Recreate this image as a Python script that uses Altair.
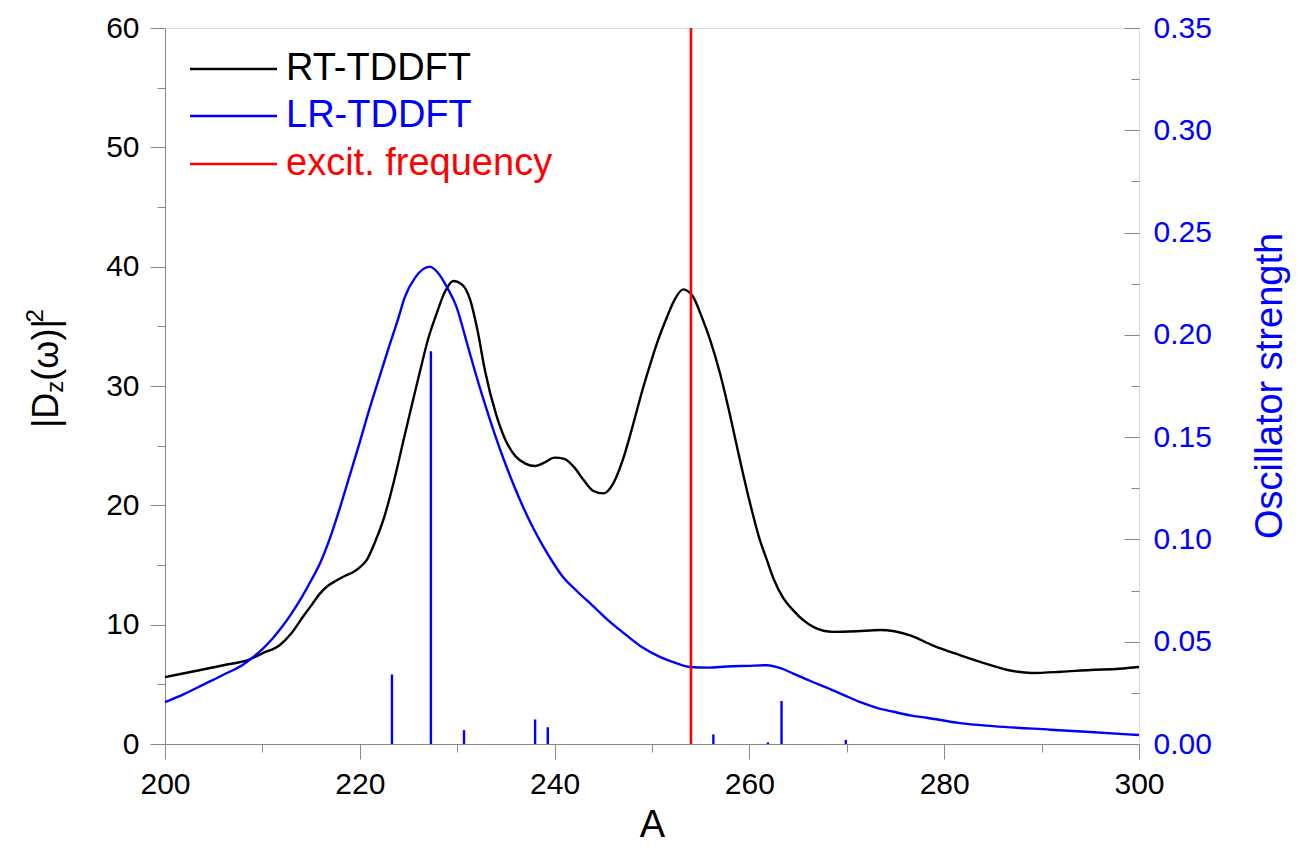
import altair as alt
import pandas as pd

# ---------------- data ----------------
rt_x = [200, 203, 206, 208.7, 210, 211.8, 213, 214.2, 215.1, 215.9, 216.8, 217.6, 218.5, 219.3,
        220, 220.7, 221.5, 222.5, 223.5, 224.5, 225.4, 226.2, 227, 227.9, 228.8, 229.6, 230.5,
        231.3, 232.1, 232.85, 234, 235, 236, 237, 238, 239, 240, 241, 242, 243, 244, 245, 246,
        247, 248, 249, 250, 250.65, 251.5, 252.3, 253.2, 254.2, 255.1, 255.95, 257, 258, 259,
        260, 261, 261.8, 262.5, 263.5, 264.5, 265.5, 266.6, 268.6, 271, 273.4, 276.5, 279,
        281.6, 284, 286.5, 289, 292, 295, 298, 300]
rt_y = [5.6, 6.1, 6.6, 7.1, 7.6, 8.3, 9.3, 10.7, 11.7, 12.6, 13.3, 13.7, 14.1, 14.4,
        14.8, 15.4, 16.8, 19.0, 22.0, 25.5, 28.6, 31.3, 33.9, 36.1, 38.0, 38.8, 38.5,
        37.3, 34.6, 31.3, 27.6, 25.4, 24.1, 23.5, 23.3, 23.6, 24.0, 23.9, 23.2, 22.1, 21.2, 21.0, 21.8,
        23.8, 26.6, 29.6, 32.3, 33.9, 35.7, 37.2, 38.1, 37.5, 35.8, 33.9, 31.0, 27.6, 23.9,
        20.4, 17.3, 15.4, 13.8, 12.2, 11.2, 10.4, 9.8, 9.4, 9.45, 9.55, 9.1, 8.2,
        7.45, 6.8, 6.2, 5.95, 6.05, 6.2, 6.3, 6.45]

lr_x = [200, 202, 204, 206, 208, 209, 210, 211, 212, 213, 214, 215, 216, 217, 218, 219, 220,
        221, 222, 223, 224, 224.6, 225.7, 227.2, 228.1, 229, 229.9, 231, 231.8, 232.8, 233.8,
        234.8, 235.8, 236.8, 237.8, 238.8, 239.8, 240.8, 242.3, 243.9, 245.6, 247.4, 249,
        250.8, 252.4, 253.9, 255.8, 257.7, 259.8, 261.8, 263.2, 264.5, 266.2, 268, 269.7,
        271.4, 273, 274.8, 276.5, 278.2, 281.6, 285, 290.9, 295, 300]
lr_y = [3.5, 4.2, 5.0, 5.8, 6.65, 7.25, 7.95, 8.8, 9.8, 10.95, 12.25, 13.7, 15.3, 17.4, 19.9, 22.6, 25.3,
        28.1, 30.7, 33.3, 35.8, 37.4, 39.1, 40.0, 39.4, 38.2, 36.7, 33.6, 31.3, 28.6, 26.1,
        23.8, 21.7, 19.8, 18.1, 16.6, 15.25, 14.05, 12.8, 11.6, 10.3, 9.1, 8.1,
        7.3, 6.8, 6.45, 6.4, 6.5, 6.55, 6.6, 6.35, 5.9, 5.3, 4.7, 4.1,
        3.5, 3.05, 2.7, 2.4, 2.2, 1.75, 1.5, 1.2, 1.0, 0.75]

stick_x = [223.3, 227.3, 230.7, 238.0, 239.3, 256.3, 261.9, 263.3, 269.9]
stick_f = [0.034, 0.192, 0.0068, 0.012, 0.0082, 0.0047, 0.0008, 0.021, 0.002]

excit_x = [254.0]

legend_labels = ["RT-TDDFT", "LR-TDDFT", "excit. frequency"]
legend_colors = ["#000000", "#0000ff", "#ff0000"]

x_major_ticks = [200, 220, 240, 260, 280, 300]
x_minor_ticks = [210, 230, 250, 270, 290]
yl_major_ticks = [0, 10, 20, 30, 40, 50, 60]
yl_minor_ticks = [5, 15, 25, 35, 45, 55]
yr_major_ticks = [0.0, 0.05, 0.10, 0.15, 0.20, 0.25, 0.30, 0.35]
yr_minor_ticks = [0.025, 0.075, 0.125, 0.175, 0.225, 0.275, 0.325]

assert len(rt_x) == len(rt_y) and len(lr_x) == len(lr_y) and len(stick_x) == len(stick_f)

rt = pd.DataFrame({"x": rt_x, "y": rt_y})
lr = pd.DataFrame({"x": lr_x, "y": lr_y})
sticks = pd.DataFrame({"x": stick_x, "f": stick_f})
excit = pd.DataFrame({"x": excit_x})

FONT = "Liberation Sans"
BLUE = "#0000ff"
W, H = 974, 716
LW = 2.4

xs = alt.Scale(domain=[200, 300], nice=False, zero=False)
yls = alt.Scale(domain=[0, 60], nice=False, zero=False)
yrs = alt.Scale(domain=[0, 0.35], nice=False, zero=False)

x_major = alt.Axis(values=x_major_ticks, tickSize=15, labelPadding=10, labelFontSize=30,
                   labelFont=FONT, labelFlush=False, labelOverlap=False, format="d",
                   title="A", titleFont=FONT, titleFontSize=38, titleFontWeight="normal",
                   titlePadding=7, grid=False, orient="bottom")
x_minor = alt.Axis(values=x_minor_ticks, tickSize=8, labels=False, domain=False,
                   title=None, grid=False, orient="bottom")
yl_major = alt.Axis(values=yl_major_ticks, tickSize=15, labelPadding=11, labelFontSize=30,
                    labelFont=FONT, labelFlush=False, labelOverlap=False, format="d",
                    title=None, grid=False, orient="left")
yl_minor = alt.Axis(values=yl_minor_ticks, tickSize=8, labels=False, domain=False,
                    title=None, grid=False, orient="left")
yr_major = alt.Axis(values=yr_major_ticks, tickSize=15, offset=-15, labelPadding=14,
                    labelFontSize=30, labelFont=FONT, labelColor=BLUE, labelFlush=False,
                    labelOverlap=False, format=".2f", domain=False, title=None, grid=False,
                    orient="right")
yr_minor = alt.Axis(values=yr_minor_ticks, tickSize=8, offset=-8, labels=False, domain=False,
                    title=None, grid=False, orient="right")

black = alt.Chart(rt).mark_line(color="black", strokeWidth=LW, interpolate="monotone").encode(
    x=alt.X("x:Q", scale=xs, axis=x_major),
    y=alt.Y("y:Q", scale=yls, axis=yl_major),
)
minor_left = alt.Chart(rt).mark_line(opacity=0).encode(
    x=alt.X("x:Q", scale=xs, axis=x_minor),
    y=alt.Y("y:Q", scale=yls, axis=yl_minor),
)
blue = alt.Chart(lr).mark_line(color=BLUE, strokeWidth=LW, interpolate="monotone").encode(
    x=alt.X("x:Q", scale=xs, axis=None),
    y=alt.Y("y:Q", scale=yls, axis=None),
)
stick_layer = alt.Chart(sticks).mark_rule(color=BLUE, strokeWidth=LW).encode(
    x=alt.X("x:Q", scale=xs, axis=None),
    y=alt.Y("f:Q", scale=yrs, axis=yr_major),
    y2=alt.datum(0),
)
minor_right = alt.Chart(sticks).mark_rule(opacity=0).encode(
    x=alt.X("x:Q", scale=xs, axis=None),
    y=alt.Y("f:Q", scale=yrs, axis=yr_minor),
)
red = alt.Chart(excit).mark_rule(color="#ff0000", strokeWidth=2.6).encode(
    x=alt.X("x:Q", scale=xs, axis=None),
)

layers = [black, minor_left, blue, stick_layer, minor_right, red]

# legend (drawn manually to colour each label like its line)
row_y = [41, 88, 136]
for lab, col, yy in zip(legend_labels, legend_colors, row_y):
    one = pd.DataFrame({"t": [lab]})
    layers.append(alt.Chart(one).mark_rule(color=col, strokeWidth=LW).encode(
        x=alt.value(25), x2=alt.value(112), y=alt.value(yy)))
    layers.append(alt.Chart(one).mark_text(color=col, font=FONT, fontSize=38, align="left",
                                           baseline="middle").encode(
        x=alt.value(121), y=alt.value(yy), text="t:N"))

# right axis title
rt_title = pd.DataFrame({"t": ["Oscillator strength"]})
layers.append(alt.Chart(rt_title).mark_text(color=BLUE, font=FONT, fontSize=38, angle=270,
                                            align="center", baseline="alphabetic").encode(
    x=alt.value(1117), y=alt.value(358), text="t:N"))

# left axis title |D_z(ω)|^2 composed of pieces
pieces = [("|D", 36, 0), ("z", 24, 5), ("(ω)|", 36, 0), ("2", 24, -15)]
widths = {"|": 0.26, "D": 0.722, "z": 0.5, "(": 0.333, "ω": 0.69, ")": 0.333, "2": 0.556}
base_x = -107
ypos = 400.0
for txt, fs, shift in pieces:
    one = pd.DataFrame({"t": [txt]})
    layers.append(alt.Chart(one).mark_text(color="black", font=FONT, fontSize=fs, angle=270,
                                           align="left", baseline="alphabetic").encode(
        x=alt.value(base_x + shift), y=alt.value(ypos), text="t:N"))
    ypos -= sum(widths[c] for c in txt) * fs

chart = alt.layer(*layers).resolve_scale(y="independent").resolve_axis(
    x="independent", y="independent"
).properties(
    width=W, height=H,
    autosize=alt.AutoSizeParams(type="none"),
    padding={"left": 157, "top": 20, "right": 152, "bottom": 103},
).configure_view(stroke="black", strokeWidth=2.4).configure_axis(
    tickColor="black", tickWidth=2.4, domainColor="black", domainWidth=2.4, labelColor="black",
    titleColor="black"
).configure(background="white")

chart.save("out.html", embed_options={"renderer": "svg", "actions": False})
